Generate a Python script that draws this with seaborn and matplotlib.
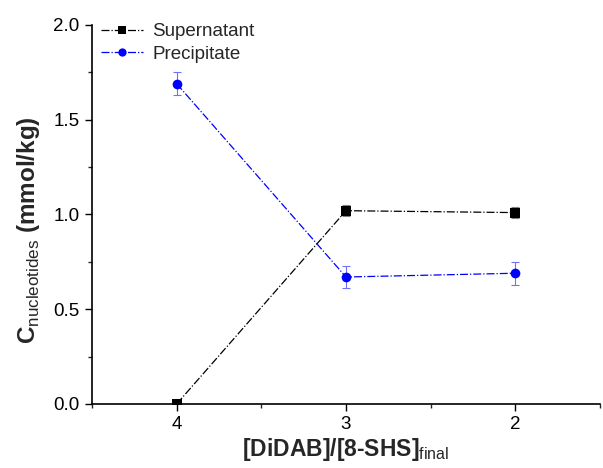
import numpy as np
import pandas as pd
import seaborn as sns
import matplotlib.pyplot as plt
from matplotlib.ticker import MultipleLocator

sns.set_style('ticks')
plt.rcParams['font.family'] = ['Liberation Sans', 'DejaVu Sans']
plt.rcParams['mathtext.fontset'] = 'custom'
plt.rcParams['mathtext.rm'] = 'Liberation Sans'
plt.rcParams['mathtext.bf'] = 'Liberation Sans:bold'

ratio = [4, 3, 2]
supernatant = [0.0, 1.02, 1.01]
supernatant_err = [0.01, 0.03, 0.03]
precipitate = [1.69, 0.67, 0.69]
precipitate_err = [0.06, 0.06, 0.06]

df = pd.DataFrame({
    'ratio': ratio * 2,
    'conc': supernatant + precipitate,
    'series': ['Supernatant'] * 3 + ['Precipitate'] * 3,
})

fig = plt.figure(figsize=(6.03, 4.68), dpi=100)
ax = fig.add_axes([0.1526, 0.1368, 0.8424, 0.8098])

sns.lineplot(data=df, x='ratio', y='conc', hue='series', style='series',
             palette={'Supernatant': 'black', 'Precipitate': '#0000ff'},
             markers={'Supernatant': 's', 'Precipitate': 'o'},
             dashes=False, linewidth=0.9, markersize=7,
             markeredgewidth=0, sort=False, ax=ax, zorder=3)
for line in ax.get_lines():
    line.set_linestyle('-.')

# error bars drawn after so the dash-dot style only hits the data lines
ax.errorbar(ratio, supernatant, yerr=supernatant_err, fmt='none',
            ecolor='#808080', elinewidth=0.8, capsize=3, capthick=0.8, zorder=2)
ax.errorbar(ratio, precipitate, yerr=precipitate_err, fmt='none',
            ecolor='#7070ff', elinewidth=0.8, capsize=3, capthick=0.8, zorder=2)

ax.set_xlim(4.5, 1.5)
ax.set_ylim(0, 2.0)
ax.xaxis.set_major_locator(MultipleLocator(1))
ax.xaxis.set_minor_locator(MultipleLocator(0.5))
ax.yaxis.set_major_locator(MultipleLocator(0.5))
ax.yaxis.set_minor_locator(MultipleLocator(0.25))
ax.xaxis.set_major_formatter(plt.FuncFormatter(lambda v, p: '%d' % round(v)))
ax.tick_params(which='major', direction='out', length=5, width=1, labelsize=13.5,
               colors='black', pad=4)
ax.tick_params(which='minor', direction='out', length=3, width=1)
for s in ['left', 'bottom']:
    ax.spines[s].set_linewidth(1.2)
    ax.spines[s].set_color('black')
sns.despine(ax=ax)

ax.set_xlabel(r'[DiDAB]/[8-SHS]$_{\mathrm{final}}$', fontsize=16.5, fontweight='bold',
              labelpad=2)
ax.set_ylabel(r'$\mathbf{C}_{\mathrm{nucleotides}}$ (mmol/kg)', fontsize=17.5,
              fontweight='bold')
ax.yaxis.set_label_coords(-0.098, 0.46)

handles, labels = ax.get_legend_handles_labels()
for h in handles:
    h.set_linestyle('-.')
ax.legend(handles, labels, loc='upper left', frameon=False, fontsize=13.5,
          handlelength=2.2, handletextpad=0.5, borderaxespad=0.1, labelspacing=0.3,
          markerscale=0.85, bbox_to_anchor=(0.0, 1.03))

fig.savefig('out.png', dpi=100)
